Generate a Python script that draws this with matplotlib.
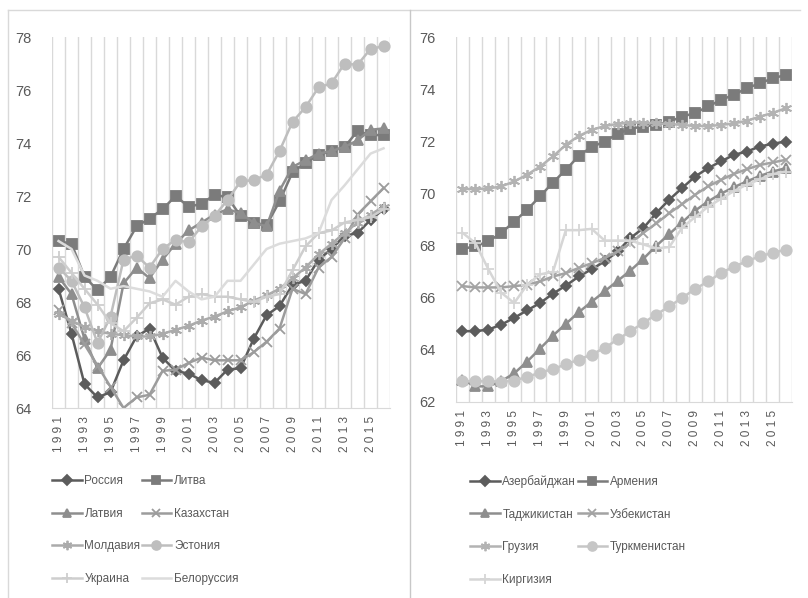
import numpy as np
import matplotlib
matplotlib.use('Agg')
from matplotlib import pyplot as plt
from matplotlib.lines import Line2D

plt.rcParams['font.family'] = ['Liberation Sans', 'DejaVu Sans']

years = list(range(1991, 2017))

# left chart
russia = [68.5, 66.8, 64.9, 64.4, 64.6, 65.8, 66.7, 67.0, 65.9, 65.4, 65.3, 65.05, 64.95,
          65.45, 65.5, 66.6, 67.5, 67.85, 68.65, 68.8, 69.6, 70.0, 70.5, 70.6, 71.1, 71.5]
lithuania = [70.3, 70.2, 68.95, 68.45, 68.95, 70.0, 70.85, 71.15, 71.5, 72.0, 71.6, 71.7, 72.05,
             71.95, 71.25, 71.0, 70.9, 71.8, 72.9, 73.25, 73.55, 73.7, 73.85, 74.45, 74.3, 74.3]
latvia = [68.95, 68.3, 66.6, 65.5, 66.2, 68.7, 69.3, 68.9, 69.6, 70.2, 70.7, 71.0, 71.3,
          71.5, 71.35, 71.0, 70.85, 72.2, 73.1, 73.35, 73.6, 73.7, 73.85, 74.1, 74.5, 74.55]
kazakhstan = [67.7, 67.2, 66.4, 65.6, 64.8, 64.0, 64.4, 64.5, 65.4, 65.45, 65.7, 65.9, 65.8,
              65.8, 65.8, 66.1, 66.5, 67.0, 68.5, 68.3, 69.3, 69.7, 70.4, 71.3, 71.8, 72.3]
moldova = [67.55, 67.3, 67.05, 66.9, 66.8, 66.75, 66.7, 66.7, 66.8, 66.95, 67.1, 67.3, 67.45,
           67.65, 67.8, 68.05, 68.25, 68.5, 68.9, 69.3, 69.8, 70.2, 70.6, 71.0, 71.3, 71.6]
estonia = [69.3, 68.8, 67.8, 66.45, 67.45, 69.6, 69.75, 69.3, 70.0, 70.35, 70.25, 70.85, 71.25,
           71.85, 72.55, 72.6, 72.8, 73.7, 74.8, 75.35, 76.1, 76.25, 77.0, 76.95, 77.55, 77.65]
ukraine = [69.7, 69.1, 68.5, 67.9, 67.2, 66.9, 67.4, 67.95, 68.1, 67.9, 68.2, 68.3, 68.2,
           68.2, 68.1, 68.0, 68.2, 68.3, 69.2, 70.1, 70.6, 70.7, 71.0, 71.1, 71.2, 71.5]
belarus = [70.3, 70.0, 69.0, 68.8, 68.5, 68.6, 68.5, 68.4, 68.2, 68.8, 68.4, 68.1, 68.2,
           68.8, 68.8, 69.4, 70.0, 70.2, 70.3, 70.4, 70.6, 71.85, 72.4, 73.0, 73.6, 73.8]

# right chart
azerbaijan = [64.72, 64.72, 64.78, 64.97, 65.23, 65.52, 65.8, 66.16, 66.47, 66.82, 67.1, 67.4, 67.78,
              68.3, 68.68, 69.26, 69.77, 70.22, 70.66, 70.98, 71.24, 71.49, 71.62, 71.81, 71.92, 72.0]
armenia = [67.88, 67.98, 68.17, 68.49, 68.93, 69.38, 69.9, 70.43, 70.92, 71.45, 71.8, 72.0, 72.3,
           72.5, 72.58, 72.65, 72.77, 72.96, 73.1, 73.35, 73.6, 73.8, 74.05, 74.24, 74.43, 74.56]
tajikistan = [62.85, 62.6, 62.6, 62.8, 63.1, 63.55, 64.05, 64.55, 65.0, 65.45, 65.85, 66.25, 66.65,
              67.05, 67.5, 68.0, 68.45, 68.9, 69.35, 69.7, 70.0, 70.25, 70.47, 70.68, 70.85, 70.98]
uzbekistan = [66.45, 66.4, 66.4, 66.4, 66.45, 66.5, 66.63, 66.82, 66.95, 67.15, 67.33, 67.53, 67.78,
              68.1, 68.5, 68.86, 69.25, 69.6, 69.96, 70.28, 70.53, 70.76, 70.94, 71.1, 71.2, 71.3]
georgia = [70.18, 70.18, 70.2, 70.28, 70.47, 70.73, 71.04, 71.43, 71.88, 72.22, 72.45, 72.6, 72.68,
           72.73, 72.73, 72.7, 72.68, 72.64, 72.6, 72.6, 72.64, 72.7, 72.8, 72.96, 73.1, 73.28]
turkmenistan = [62.8, 62.8, 62.8, 62.78, 62.82, 62.97, 63.12, 63.27, 63.44, 63.63, 63.82, 64.08, 64.4,
                64.72, 65.04, 65.36, 65.67, 66.0, 66.34, 66.63, 66.95, 67.2, 67.4, 67.6, 67.72, 67.85]
kyrgyzstan = [68.5, 68.1, 67.1, 66.2, 65.8, 66.5, 66.9, 67.0, 68.6, 68.6, 68.65, 68.2, 68.2,
              68.2, 68.05, 67.9, 67.95, 68.7, 69.1, 69.5, 69.8, 70.1, 70.35, 70.55, 70.75, 70.85]

ast = (6, 2, 0)  # asterisk marker
left_series = [
    ('Россия', russia, '#5c5c5c', 'D', 5.5),
    ('Литва', lithuania, '#7b7b7b', 's', 7),
    ('Латвия', latvia, '#8e8e8e', '^', 7),
    ('Казахстан', kazakhstan, '#9c9c9c', 'x', 7),
    ('Молдавия', moldova, '#ababab', ast, 8),
    ('Эстония', estonia, '#bebebe', 'o', 7.5),
    ('Украина', ukraine, '#cecece', '+', 8),
    ('Белоруссия', belarus, '#dcdcdc', None, 0),
]
right_series = [
    ('Азербайджан', azerbaijan, '#5c5c5c', 'D', 5.5),
    ('Армения', armenia, '#7b7b7b', 's', 7),
    ('Таджикистан', tajikistan, '#8e8e8e', '^', 7),
    ('Узбекистан', uzbekistan, '#a3a3a3', 'x', 7),
    ('Грузия', georgia, '#b3b3b3', ast, 8),
    ('Туркменистан', turkmenistan, '#c6c6c6', 'o', 7.5),
    ('Киргизия', kyrgyzstan, '#d6d6d6', '+', 8),
]

fig = plt.figure(figsize=(8.08, 5.98), dpi=100)
text_col = '#595959'
grid_col = '#d9d9d9'


def draw(ax, series, ylim):
    x = np.arange(len(years))
    for name, vals, col, mk, ms in series:
        ax.plot(x, vals, color=col, lw=1.8, marker=mk, markersize=ms,
                markeredgewidth=1.3, label=name)
    ax.set_xlim(-0.5, len(years) - 0.5)
    ax.set_ylim(*ylim)
    ax.set_yticks(np.arange(ylim[0], ylim[1] + 1, 2))
    ax.set_xticks(x[::2])
    ax.set_xticklabels([' '.join(str(y)) for y in years[::2]], rotation=90)
    ax.set_xticks(np.arange(-0.5, len(years), 1), minor=True)
    ax.grid(which='minor', axis='x', color=grid_col, lw=1)
    ax.tick_params(which='both', length=0, colors=text_col)
    ax.tick_params(axis='y', labelsize=10.5, pad=15)
    ax.tick_params(axis='x', labelsize=8.5, pad=6)
    for s in ['top', 'left', 'right']:
        ax.spines[s].set_visible(False)
    ax.spines['bottom'].set_color(grid_col)


def legend_rows(ax, x0):
    # excel fills the legend row by row, matplotlib column by column
    h, l = ax.get_legend_handles_labels()
    order = list(range(0, len(h), 2)) + list(range(1, len(h), 2))
    ax.legend([h[i] for i in order], [l[i] for i in order], ncol=2, frameon=False,
              fontsize=8.5, labelcolor=text_col, borderpad=0, borderaxespad=0,
              handlelength=2.5, handletextpad=0.25, labelspacing=1.75, columnspacing=0.1,
              markerscale=0.85, loc='upper left', bbox_to_anchor=(x0 / 808, 1 - 475 / 598),
              bbox_transform=fig.transFigure)


ax1 = fig.add_axes([0.0644, 0.3177, 0.4183, 0.6204])
draw(ax1, left_series, (64, 78))
legend_rows(ax1, 52)
ax2 = fig.add_axes([0.5644, 0.3278, 0.4158, 0.6095])
draw(ax2, right_series, (62, 76))
legend_rows(ax2, 470)

# chart frames
fig.add_artist(Line2D([8 / 808, 800 / 808], [1 - 10 / 598, 1 - 10 / 598], color=grid_col, lw=1,
                      transform=fig.transFigure))
fig.add_artist(Line2D([8 / 808, 8 / 808], [0, 1 - 10 / 598], color=grid_col, lw=1,
                      transform=fig.transFigure))
fig.add_artist(Line2D([410 / 808, 410 / 808], [0, 1 - 10 / 598], color='#c8c8c8', lw=1,
                      transform=fig.transFigure))

fig.savefig('out.png', dpi=100)
print('done')
